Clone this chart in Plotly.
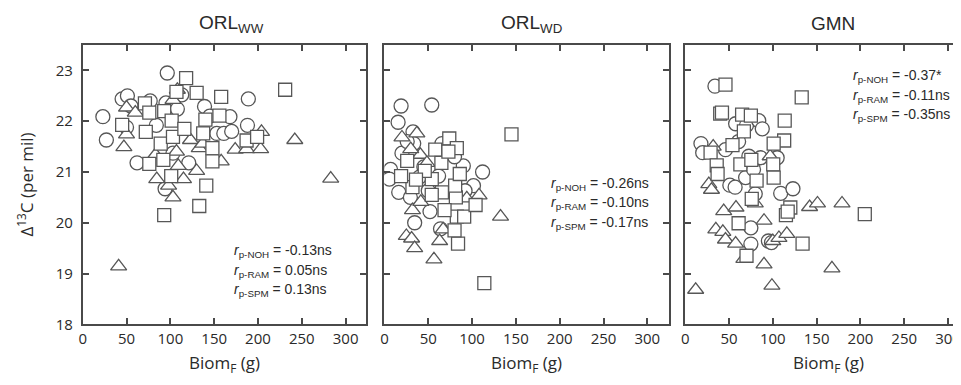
import plotly.graph_objects as go

# ---------------- data ----------------
panel_titles = ["ORL<sub>WW</sub>", "ORL<sub>WD</sub>", "GMN"]

# ORL_WW
ww_circle_x = [23, 27, 45, 51, 55, 50, 62, 77, 84, 95, 96.5, 94, 103, 108, 113, 121, 139, 145, 153, 161, 168, 170, 189, 188]
ww_circle_y = [22.09, 21.63, 22.44, 22.5, 22.3, 21.88, 21.18, 22.4, 21.92, 22.36, 22.95, 20.67, 21.37, 22.24, 22.52, 21.18, 22.29, 22.1, 21.76, 21.76, 22.09, 21.8, 22.44, 21.92]
ww_tri_x = [50, 60, 50, 47, 41, 84.5, 98, 103, 107, 109, 115, 103, 108, 130, 123, 133, 137, 158, 174, 187, 204, 203, 242, 283, 83]
ww_tri_y = [22.27, 22.17, 21.74, 21.49, 19.14, 20.86, 20.73, 20.5, 21.4, 21.12, 20.86, 22.42, 22.62, 21.02, 21.63, 21.47, 21.56, 21.21, 21.44, 21.45, 21.79, 21.45, 21.63, 20.87, 21.34]
ww_sq_x = [45, 71, 76, 72, 76, 89, 92, 93, 101.5, 103, 101, 93, 107, 118, 116, 130, 133, 140, 137.5, 141, 148, 148, 158, 156, 187, 199, 231]
ww_sq_y = [21.93, 22.35, 22.17, 21.79, 21.16, 21.56, 21.24, 22.2, 22.01, 21.69, 20.92, 20.15, 22.58, 22.85, 21.85, 22.56, 20.33, 22.03, 21.76, 20.73, 21.47, 21.21, 22.48, 22.11, 21.62, 21.69, 22.62]

# ORL_WD
wd_circle_x = [19, 54, 15.6, 32.6, 33.4, 20, 7, 5.7, 16.3, 29.6, 34.5, 64, 52, 90, 112, 101.6, 92, 50, 65.6, 61.8, 26, 45, 80, 40]
wd_circle_y = [22.3, 22.32, 21.98, 21.79, 21.56, 21.37, 21.05, 20.86, 20.6, 20.5, 20.0, 19.88, 20.22, 21.12, 21.0, 20.73, 20.63, 20.63, 21.56, 20.92, 21.6, 21.1, 21.3, 20.9]
wd_tri_x = [20, 37, 41, 48.5, 25, 31, 34.5, 56.5, 63, 67, 32, 41.5, 108, 94, 132.5, 30]
wd_tri_y = [21.68, 21.76, 21.34, 21.18, 19.74, 19.69, 19.5, 19.28, 19.64, 19.87, 20.25, 20.41, 20.54, 20.48, 20.12, 21.45]
wd_sq_x = [145, 114, 84, 80, 82.6, 91, 104, 81.5, 80.7, 68.6, 65.6, 54, 32, 19, 26, 46, 58, 65, 74, 82.6, 73, 86, 54, 36]
wd_sq_y = [21.74, 18.81, 19.59, 19.85, 20.12, 20.12, 20.35, 20.5, 20.73, 20.25, 20.6, 20.86, 20.7, 20.92, 21.22, 21.02, 21.44, 21.18, 21.66, 21.47, 21.4, 20.96, 20.55, 20.85]

# GMN
gm_circle_x = [34, 18, 20, 46, 57.6, 61, 70, 84, 88, 72.7, 86, 105, 69, 78, 51, 57, 80, 109, 123, 75, 75, 95, 98.5]
gm_circle_y = [22.69, 21.56, 21.38, 21.44, 21.95, 21.6, 21.92, 22.01, 21.85, 21.31, 21.28, 21.28, 20.89, 21.05, 20.74, 20.7, 20.57, 20.58, 20.67, 19.9, 19.58, 19.64, 19.61]
gm_tri_x = [32, 27, 30, 44, 58, 35, 43, 46, 57.6, 67, 80, 90, 90, 99, 12, 100, 107, 116, 142, 151, 179, 167.5, 97]
gm_tri_y = [21.5, 20.76, 20.65, 20.23, 20.3, 19.87, 19.82, 19.67, 19.59, 19.29, 20.38, 20.04, 19.18, 18.76, 18.68, 19.64, 19.7, 19.78, 20.31, 20.38, 20.38, 19.1, 21.31]
gm_sq_x = [46, 40, 42, 65, 75, 67, 133, 113.6, 113, 101, 54, 29, 36, 37, 63, 75.5, 100.5, 101, 81.5, 76, 120, 115, 61, 70, 134, 205, 117]
gm_sq_y = [22.72, 22.15, 22.17, 22.13, 22.11, 21.8, 22.47, 22.01, 21.62, 21.56, 21.53, 21.38, 21.13, 20.96, 21.15, 21.24, 21.15, 20.89, 20.83, 20.47, 20.3, 20.15, 19.99, 19.35, 19.59, 20.17, 20.22]

stat_labels = ["p-NOH", "p-RAM", "p-SPM"]
ww_stats = ["-0.13ns", "0.05ns", "0.13ns"]
wd_stats = ["-0.26ns", "-0.10ns", "-0.17ns"]
gm_stats = ["-0.37*", "-0.11ns", "-0.35ns"]

x_ticks = [0, 50, 100, 150, 200, 250, 300]
y_ticks = [18, 19, 20, 21, 22, 23]

# ---------------- layout geometry ----------------
# page body has an 8px margin, so the figure is drawn 8px in from the window edge
OFF = 8
W, H = 961 - OFF, 385 - OFF
AX = "#4a4a4a"
MK = "#575757"
TXT = "#2a2a2a"


def fx(px):
    return (px - OFF) / W


def fy(py):
    return 1 - (py - OFF) / H


panels = [
    dict(cx=ww_circle_x, cy=ww_circle_y, tx=ww_tri_x, ty=ww_tri_y, sx=ww_sq_x, sy=ww_sq_y,
         dom=[fx(79), fx(363)], rng=[0, 322.7], stats=ww_stats, sx0=229, sy0=257, tcx=228, bcx=221, mirror=True),
    dict(cx=wd_circle_x, cy=wd_circle_y, tx=wd_tri_x, ty=wd_tri_y, sx=wd_sq_x, sy=wd_sq_y,
         dom=[fx(382), fx(668)], rng=[0, 325], stats=wd_stats, sx0=547, sy0=188, tcx=530, bcx=525, mirror=True),
    dict(cx=gm_circle_x, cy=gm_circle_y, tx=gm_tri_x, ty=gm_tri_y, sx=gm_sq_x, sy=gm_sq_y,
         dom=[fx(684), 1.0], rng=[0, 314.8], stats=gm_stats, sx0=851, sy0=78, tcx=832, bcx=828, mirror=False),
]

fig = go.Figure()
annotations = []
ydom = [fy(332), fy(46)]

for i, p in enumerate(panels):
    xa = "x" if i == 0 else f"x{i+1}"
    ya = "y" if i == 0 else f"y{i+1}"
    for xs, ys, sym, sz in [(p["cx"], p["cy"], "circle", 14),
                            (p["tx"], p["ty"], "triangle-up", 14),
                            (p["sx"], p["sy"], "square", 13)]:
        fig.add_trace(go.Scatter(
            x=xs, y=ys, mode="markers", xaxis=xa, yaxis=ya, showlegend=False,
            marker=dict(symbol=sym, size=sz, color="white",
                        line=dict(color=MK, width=1.3)),
            hoverinfo="skip"))

    common_x = dict(domain=p["dom"], range=p["rng"], tickvals=x_ticks,
                    ticks="inside", ticklen=6, tickwidth=1.5, tickcolor=AX,
                    showline=True, linecolor=AX, linewidth=1.8, mirror="ticks",
                    showgrid=False, zeroline=False,
                    tickfont=dict(family="Open Sans", size=15, color=TXT),
                    anchor=ya)
    common_y = dict(domain=ydom, range=[18, 23.5], tickvals=y_ticks,
                    ticks="inside", ticklen=6, tickwidth=1.5, tickcolor=AX,
                    showline=True, linecolor=AX, linewidth=1.8,
                    mirror="ticks" if p["mirror"] else False,
                    showgrid=False, zeroline=False, showticklabels=(i == 0),
                    ticklabelstandoff=5,
                    tickfont=dict(family="Open Sans", size=15, color=TXT),
                    anchor=xa)
    key = "" if i == 0 else str(i + 1)
    fig.update_layout(**{f"xaxis{key}": common_x, f"yaxis{key}": common_y})

    # panel title
    annotations.append(dict(text=panel_titles[i], x=fx(p["tcx"]), y=fy(24),
                            xref="paper", yref="paper", xanchor="center", yanchor="middle",
                            showarrow=False,
                            font=dict(family="Liberation Sans", size=19, color=TXT)))
    # x-axis title
    annotations.append(dict(text="Biom<sub>F</sub> (g)", x=fx(p["bcx"]), y=fy(372),
                            xref="paper", yref="paper", xanchor="center", yanchor="middle",
                            showarrow=False,
                            font=dict(family="Open Sans", size=17, color=TXT)))
    # statistics
    for j, (lab, val) in enumerate(zip(stat_labels, p["stats"])):
        annotations.append(dict(text=f"<i>r</i><sub>{lab}</sub> = {val}",
                                x=fx(p["sx0"]), y=fy(p["sy0"] + 20 * j),
                                xref="paper", yref="paper", xanchor="left", yanchor="middle",
                                showarrow=False,
                                font=dict(family="Liberation Sans", size=14, color=TXT)))

annotations.append(dict(text="Δ<sup>13</sup>C (per mil)", x=fx(22), y=fy(189),
                        xref="paper", yref="paper", xanchor="center", yanchor="middle",
                        textangle=-90, showarrow=False,
                        font=dict(family="Open Sans", size=17, color=TXT)))

fig.update_layout(width=W, height=H, margin=dict(l=0, r=0, t=0, b=0),
                  paper_bgcolor="white", plot_bgcolor="white",
                  annotations=annotations)

fig.write_html("out.html")
